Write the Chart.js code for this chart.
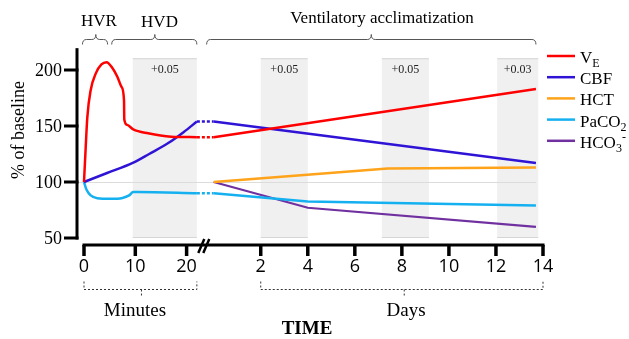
<!DOCTYPE html>
<html>
<head>
<meta charset="utf-8">
<script src="https://cdn.jsdelivr.net/npm/chart.js@4.4.1/dist/chart.umd.min.js"></script>
<style>
  html, body { margin: 0; padding: 0; background: #fff; }
</style>
</head>
<body>
<canvas id="acclimChart" width="629" height="339"></canvas>
<script>
// ---- data (minutes part: x = minutes, days part: x = days) ----
const veMinutes = [[0, 100], [0.3, 128], [0.65, 158], [1.3, 182], [2.3, 197], [3.4, 205], [4.4, 207], [5.5, 202], [6.5, 194], [7.3, 185], [7.8, 173], [7.85, 156], [8.4, 151], [9.6, 147], [12.5, 143.5], [17, 140.5], [22, 140]];
const cbfMinutes = [[0, 100], [4.5, 108], [9.5, 117], [12.7, 125], [16.5, 135], [19.4, 144.5], [22, 154]];
const paco2Minutes = [[0, 100], [0.5, 93], [1.3, 88], [2.6, 85.5], [5, 85], [7.5, 85.8], [8.8, 88], [9.6, 91], [10.5, 91], [22, 90]];

const veDays = [[0, 140], [13.7, 183]];
const cbfDays = [[0, 154], [13.7, 117]];
const hctDays = [[0, 100], [7.4, 112], [13.7, 113]];
const paco2Days = [[0, 90], [4, 82.5], [13.7, 79]];
const hco3Days = [[0, 100], [4, 77], [13.7, 60]];

const minuteTicks = [0, 10, 20];
const dayTicks = [2, 4, 6, 8, 10, 12, 14];
const yTicks = [50, 100, 150, 200];

// shaded periods and the numbers printed in them
const minuteBands = [[9.5, 22]];
const dayBands = [[2, 4], [7.15, 9.15], [12.05, 13.8]];
const bandLabels = ["+0.05", "+0.05", "+0.05", "+0.03"];

// ---- joined time axis: minutes first, then days after the break ----
const DAY_ZERO = 25.28;
const DAY_W = 4.585;
const dayPos = d => DAY_ZERO + d * DAY_W;

const RED = "#ff0000";
const BLUE = "#2f14d6";
const ORANGE = "#ffa31a";
const CYAN = "#15b0f0";
const PURPLE = "#7030a0";

const pts = (arr, f) => arr.map(([t, v]) => ({ x: f ? f(t) : t, y: v }));
const link = (a, b) => [
  { x: a[a.length - 1][0], y: a[a.length - 1][1] },
  { x: dayPos(b[0][0]), y: b[0][1] },
];

function lineSet(data, color, extra) {
  return Object.assign({
    data: data,
    borderColor: color,
    backgroundColor: color,
    borderWidth: 2.5,
    pointRadius: 0,
    tension: 0,
    fill: false,
    clip: false,
  }, extra || {});
}

const smooth = { cubicInterpolationMode: "monotone" };

const datasets = [
  lineSet(pts(veMinutes), RED, smooth),
  lineSet(link(veMinutes, veDays), RED, { borderDash: [3, 2] }),
  lineSet(pts(veDays, dayPos), RED),
  lineSet(pts(cbfMinutes), BLUE, smooth),
  lineSet(link(cbfMinutes, cbfDays), BLUE, { borderDash: [3, 2] }),
  lineSet(pts(cbfDays, dayPos), BLUE),
  lineSet(pts(hctDays, dayPos), ORANGE),
  lineSet(pts(paco2Minutes), CYAN, smooth),
  lineSet(link(paco2Minutes, paco2Days), CYAN, { borderDash: [3, 2] }),
  lineSet(pts(paco2Days, dayPos), CYAN),
  lineSet(pts(hco3Days, dayPos), PURPLE, { borderWidth: 2.2 }),
];

// legend entries, text split in normal / sub / sup pieces
const legendItems = [
  { color: RED, parts: [["V", ""], ["E", "sub"]] },
  { color: BLUE, parts: [["CBF", ""]] },
  { color: ORANGE, parts: [["HCT", ""]] },
  { color: CYAN, parts: [["PaCO", ""], ["2", "sub"]] },
  { color: PURPLE, parts: [["HCO", ""], ["3", "sub"], ["-", "sup"]] },
];

const SERIF = '"Liberation Serif", "Times New Roman", serif';

function brace(ctx, x1, x2, cx, y) {
  const r = 4;
  ctx.beginPath();
  ctx.moveTo(x1, y + 5);
  ctx.quadraticCurveTo(x1, y, x1 + r, y);
  ctx.lineTo(cx - r, y);
  ctx.quadraticCurveTo(cx, y, cx, y - 5);
  ctx.quadraticCurveTo(cx, y, cx + r, y);
  ctx.lineTo(x2 - r, y);
  ctx.quadraticCurveTo(x2, y, x2, y + 5);
  ctx.stroke();
}

function dottedBracket(ctx, x1, x2, cx, y) {
  ctx.beginPath();
  ctx.moveTo(x1, y - 8);
  ctx.lineTo(x1, y);
  ctx.lineTo(x2, y);
  ctx.lineTo(x2, y - 8);
  ctx.moveTo(cx, y);
  ctx.lineTo(cx, y + 8);
  ctx.stroke();
}

const decor = {
  id: "decor",
  beforeDatasetsDraw(chart) {
    const { ctx, chartArea } = chart;
    const x = chart.scales.x, y = chart.scales.y;
    ctx.save();
    const bands = minuteBands.concat(dayBands.map(b => [dayPos(b[0]), dayPos(b[1])]));
    const top = y.getPixelForValue(210.5), bot = y.getPixelForValue(50);
    bands.forEach((b, i) => {
      const l = x.getPixelForValue(b[0]), r = x.getPixelForValue(b[1]);
      ctx.fillStyle = "#f0f0f0";
      ctx.fillRect(l, top, r - l, bot - top);
      ctx.strokeStyle = "#d6d6d6";
      ctx.lineWidth = 1;
      ctx.beginPath();
      ctx.moveTo(l, top + 0.5); ctx.lineTo(r, top + 0.5);
      ctx.moveTo(l, bot - 0.5); ctx.lineTo(r, bot - 0.5);
      ctx.stroke();
      ctx.fillStyle = "#222";
      ctx.font = "12px " + SERIF;
      ctx.textAlign = "center";
      ctx.textBaseline = "middle";
      ctx.fillText(bandLabels[i], (l + r) / 2, top + 12);
    });
    // baseline reference at 100 %
    const y100 = Math.round(y.getPixelForValue(100)) + 0.5;
    ctx.strokeStyle = "#dcdcdc";
    ctx.lineWidth = 1;
    ctx.beginPath();
    ctx.moveTo(chartArea.left - 7, y100);
    ctx.lineTo(x.getPixelForValue(dayPos(13.7)), y100);
    ctx.stroke();
    ctx.restore();
  },
  afterDatasetsDraw(chart) {
    const { ctx, chartArea } = chart;
    const x = chart.scales.x, y = chart.scales.y;
    ctx.save();
    ctx.strokeStyle = "#000";
    ctx.fillStyle = "#000";

    // y axis, set off to the left of the plot
    const ax = chartArea.left - 7;
    ctx.lineWidth = 3;
    ctx.beginPath();
    ctx.moveTo(ax, y.getPixelForValue(219.5));
    ctx.lineTo(ax, y.getPixelForValue(50) + 1.5);
    ctx.stroke();
    ctx.font = "18px " + SERIF;
    ctx.textAlign = "right";
    ctx.textBaseline = "middle";
    yTicks.forEach(v => {
      const py = y.getPixelForValue(v);
      ctx.beginPath();
      ctx.moveTo(ax - 13, py);
      ctx.lineTo(ax + 1.5, py);
      ctx.stroke();
      ctx.fillText(String(v), ax - 15, py + 1);
    });
    ctx.save();
    ctx.translate(19, 130);
    ctx.rotate(-Math.PI / 2);
    ctx.textAlign = "center";
    ctx.fillText("% of baseline", 0, 0);
    ctx.restore();

    // x axis with break
    const axY = chartArea.bottom;
    ctx.lineWidth = 3;
    ctx.beginPath();
    ctx.moveTo(x.getPixelForValue(0) - 1.5, axY);
    ctx.lineTo(x.getPixelForValue(dayPos(14)) + 1.5, axY);
    ctx.stroke();
    const tickPos = minuteTicks.map(m => [m, m]).concat(dayTicks.map(d => [dayPos(d), d]));
    ctx.font = '18px "Open Sans", "Liberation Sans", sans-serif';
    ctx.textAlign = "center";
    ctx.textBaseline = "middle";
    ctx.lineWidth = 3.5;
    tickPos.forEach(([p, lab]) => {
      const px = x.getPixelForValue(p);
      ctx.beginPath();
      ctx.moveTo(px, axY);
      ctx.lineTo(px, axY + 11);
      ctx.stroke();
      ctx.fillText(String(lab), px, axY + 22);
    });
    const bx = (x.getPixelForValue(22) + x.getPixelForValue(dayPos(0))) / 2 - 1;
    ctx.lineWidth = 2.5;
    ctx.beginPath();
    ctx.moveTo(bx - 6, axY + 8); ctx.lineTo(bx, axY - 6);
    ctx.moveTo(bx - 1, axY + 8); ctx.lineTo(bx + 5, axY - 6);
    ctx.stroke();

    // dotted brackets under the axis
    ctx.strokeStyle = "#333";
    ctx.lineWidth = 1;
    ctx.setLineDash([2, 2]);
    dottedBracket(ctx, x.getPixelForValue(0), x.getPixelForValue(22), x.getPixelForValue(11.2), 289.5);
    dottedBracket(ctx, x.getPixelForValue(dayPos(2)), x.getPixelForValue(dayPos(14)), x.getPixelForValue(dayPos(8.1)), 289.5);
    ctx.setLineDash([]);
    ctx.fillStyle = "#000";
    ctx.font = "19px " + SERIF;
    ctx.textBaseline = "alphabetic";
    ctx.fillText("Minutes", 135, 316);
    ctx.fillText("Days", 406, 316);
    ctx.font = "bold 19px " + SERIF;
    ctx.fillText("TIME", 307, 334);

    // phase braces on top
    ctx.strokeStyle = "#555";
    ctx.lineWidth = 1;
    brace(ctx, x.getPixelForValue(-0.3), x.getPixelForValue(4.6), x.getPixelForValue(2.3), 39.5);
    brace(ctx, x.getPixelForValue(5.4), x.getPixelForValue(22), x.getPixelForValue(13.8), 39.5);
    brace(ctx, x.getPixelForValue(dayPos(-0.3)), x.getPixelForValue(dayPos(13.7)), x.getPixelForValue(dayPos(6.7)), 39.5);
    ctx.font = "17px " + SERIF;
    ctx.fillText("HVR", 99, 26);
    ctx.fillText("HVD", 159.5, 27);
    ctx.fillText("Ventilatory acclimatization", 382, 23);

    // legend with sub/superscripts
    ctx.textAlign = "left";
    legendItems.forEach((it, i) => {
      const base = 63 + i * 21.2;
      ctx.strokeStyle = it.color;
      ctx.lineWidth = 2.5;
      ctx.beginPath();
      ctx.moveTo(547, base - 7);
      ctx.lineTo(575, base - 7);
      ctx.stroke();
      let tx = 580;
      it.parts.forEach(([t, kind]) => {
        ctx.font = (kind ? "12px " : "17px ") + SERIF;
        const dy = kind === "sub" ? 4 : kind === "sup" ? -7 : 0;
        ctx.fillStyle = "#000";
        ctx.fillText(t, tx, base + dy);
        tx += ctx.measureText(t).width;
      });
    });
    ctx.restore();
  },
};

try {
  const ctx = document.getElementById("acclimChart").getContext("2d");
  new Chart(ctx, {
    type: "line",
    data: { datasets: datasets },
    options: {
      responsive: false,
      animation: false,
      devicePixelRatio: 1,
      layout: { padding: { left: 84, right: 86, top: 47.6, bottom: 94 } },
      scales: {
        x: { type: "linear", min: 0, max: dayPos(14), display: false },
        y: { min: 43.75, max: 220, display: false },
      },
      plugins: { legend: { display: false }, tooltip: { enabled: false } },
    },
    plugins: [decor],
  });
} catch (e) {
  console.error("chart error:", e);
}
</script>
</body>
</html>
